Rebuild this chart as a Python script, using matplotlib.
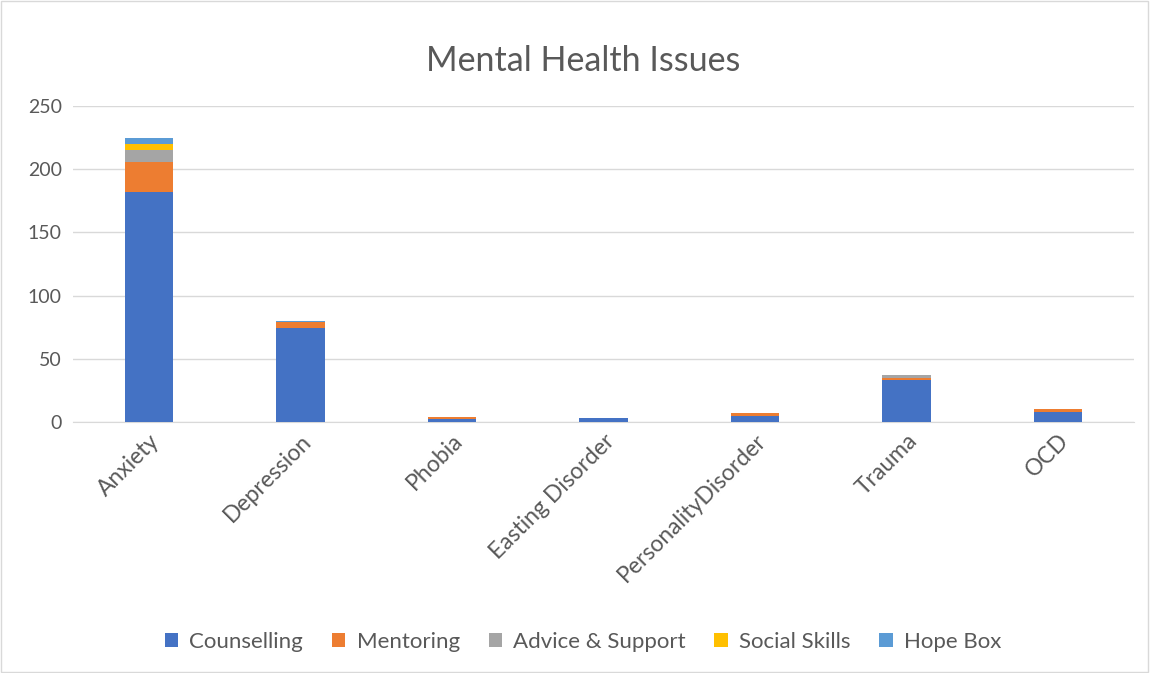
import matplotlib.pyplot as plt
import numpy as np

plt.rcParams['font.family'] = ['Lato', 'DejaVu Sans']

categories = ['Anxiety', 'Depression', 'Phobia', 'Easting Disorder',
              'PersonalityDisorder', 'Trauma', 'OCD']
counselling = [182, 74, 2, 3, 5, 33, 8]
mentoring = [24, 5, 2, 0, 2, 2, 2]
advice = [9, 0, 0, 0, 0, 2, 0]
social = [5, 0, 0, 0, 0, 0, 0]
hope_box = [5, 1, 0, 0, 0, 0, 0]

series = [('Counselling', counselling, '#4472C4'),
          ('Mentoring', mentoring, '#ED7D31'),
          ('Advice & Support', advice, '#A5A5A5'),
          ('Social Skills', social, '#FFC000'),
          ('Hope Box', hope_box, '#5B9BD5')]

fig = plt.figure(figsize=(11.5, 6.73), dpi=100)
ax = fig.add_axes([0.0635, 0.373, 0.9225, 0.4695])

x = np.arange(len(categories))
bottom = np.zeros(len(categories))
for name, vals, col in series:
    ax.bar(x, vals, 0.32, bottom=bottom, color=col, label=name, zorder=3)
    bottom += np.array(vals)

ax.set_xlim(-0.5, len(categories) - 0.5)
ax.set_ylim(0, 250)
ax.set_yticks(range(0, 251, 50))
ax.grid(axis='y', color='#D9D9D9', linewidth=1, zorder=0)
for s in ['top', 'right', 'left']:
    ax.spines[s].set_visible(False)
ax.spines['bottom'].set_color('#D9D9D9')
ax.tick_params(length=0, colors='#595959')
ax.tick_params(axis='y', labelsize=14, pad=8)
ax.tick_params(axis='x', labelsize=16.5, pad=6)
ax.set_xticks(x)
ax.set_xticklabels(categories, rotation=45, ha='right', rotation_mode='anchor')

fig.text(0.507, 0.91, 'Mental Health Issues', ha='center', va='center',
         fontsize=24.5, color='#595959')

leg = fig.legend(loc='center', bbox_to_anchor=(0.507, 0.046), ncol=5, frameon=False,
                 fontsize=16, handlelength=0.6, handleheight=0.6, columnspacing=1.3,
                 handletextpad=0.5)
for t in leg.get_texts():
    t.set_color('#595959')

fig.patches.append(plt.Rectangle((0.001, 0.001), 0.997, 0.997, transform=fig.transFigure,
                                 fill=False, edgecolor='#D9D9D9', linewidth=1))

fig.savefig('out.png', dpi=100)
